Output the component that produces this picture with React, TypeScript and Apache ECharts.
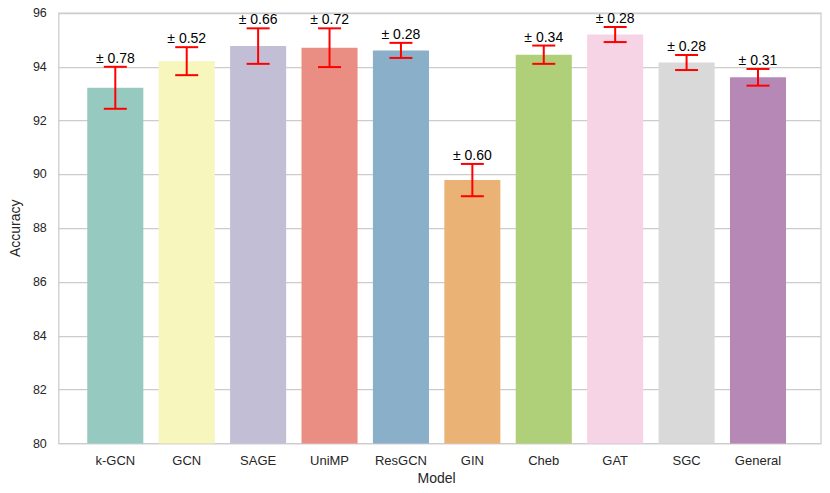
import React, { useEffect, useRef } from "react";
import * as echarts from "echarts";

const categories = ["k-GCN", "GCN", "SAGE", "UniMP", "ResGCN", "GIN", "Cheb", "GAT", "SGC", "General"];
const means = [93.22, 94.21, 94.77, 94.71, 94.61, 89.79, 94.45, 95.2, 94.16, 93.61];
const errs = [0.78, 0.52, 0.66, 0.72, 0.28, 0.6, 0.34, 0.28, 0.28, 0.31];
const colors = ["#96cac1", "#f6f6bd", "#c1bed6", "#ea8e83", "#8aafc9", "#eab375", "#afcf78", "#f6d3e5", "#d9d9d9", "#b588b5"];
const yTicksMin = 80;
const yTicksMax = 96;
const yStep = 2;

const FONT = "Liberation Sans, Arial, sans-serif";
const TEXT = "#262626";

export default function App() {
  const ref = useRef<HTMLDivElement>(null);
  useEffect(() => {
    document.body.style.margin = "0";
    const chart = echarts.init(ref.current!, undefined, { renderer: "svg" });
    const barData = means.map((v, i) => ({ value: v, itemStyle: { color: colors[i] } }));
    const errData = means.map((v, i) => [i, v - errs[i], v + errs[i], errs[i]]);
    chart.setOption({
      animation: false,
      backgroundColor: "#ffffff",
      textStyle: { fontFamily: FONT },
      grid: [
        { left: 52, right: 9, top: 13, bottom: 49.5, show: true, borderColor: "#cccccc", borderWidth: 1.25, backgroundColor: "transparent" },
        { left: 79.6, right: 36.3, top: 13, bottom: 49.5 },
      ],
      xAxis: [
        { gridIndex: 0, type: "value", min: 0, max: 1, show: false },
        {
          gridIndex: 1,
          type: "category",
          data: categories,
          axisLine: { show: false },
          axisTick: { show: false },
          axisLabel: { color: TEXT, fontSize: 13, fontFamily: FONT, margin: 10 },
          name: "Model",
          nameLocation: "middle",
          nameGap: 26,
          nameTextStyle: { color: TEXT, fontSize: 14, fontFamily: FONT },
        },
      ],
      yAxis: [
        {
          gridIndex: 0,
          type: "value",
          min: yTicksMin,
          max: yTicksMax,
          interval: yStep,
          axisLine: { show: false },
          axisTick: { show: false },
          splitLine: { lineStyle: { color: "#cccccc", width: 1.25 } },
          axisLabel: { color: TEXT, fontSize: 12.5, fontFamily: FONT, margin: 12 },
          name: "Accuracy",
          nameLocation: "middle",
          nameGap: 30,
          nameTextStyle: { color: TEXT, fontSize: 14, fontFamily: FONT },
        },
        { gridIndex: 1, type: "value", min: yTicksMin, max: yTicksMax, show: false, splitLine: { show: false } },
      ],
      series: [
        {
          type: "bar",
          xAxisIndex: 1,
          yAxisIndex: 1,
          data: barData,
          barWidth: "78.5%",
        },
        {
          type: "custom",
          xAxisIndex: 1,
          yAxisIndex: 1,
          data: errData,
          z: 10,
          renderItem: (params: any, api: any) => {
            const x = api.value(0);
            const lo = api.coord([x, api.value(1)]);
            const hi = api.coord([x, api.value(2)]);
            const cap = 11.5;
            const st = { stroke: "#ff0000", lineWidth: 2 };
            return {
              type: "group",
              children: [
                { type: "line", shape: { x1: lo[0], y1: lo[1], x2: hi[0], y2: hi[1] }, style: st },
                { type: "line", shape: { x1: lo[0] - cap, y1: lo[1], x2: lo[0] + cap, y2: lo[1] }, style: st },
                { type: "line", shape: { x1: hi[0] - cap, y1: hi[1], x2: hi[0] + cap, y2: hi[1] }, style: st },
                {
                  type: "text",
                  x: hi[0],
                  y: hi[1] - 2,
                  style: {
                    text: "± " + Number(api.value(3)).toFixed(2),
                    fill: "#000000",
                    font: "14px " + FONT,
                    align: "center",
                    verticalAlign: "bottom",
                  },
                },
              ],
            };
          },
        },
      ],
    });
    return () => chart.dispose();
  }, []);
  return <div ref={ref} style={{ width: 830, height: 493 }} />;
}
